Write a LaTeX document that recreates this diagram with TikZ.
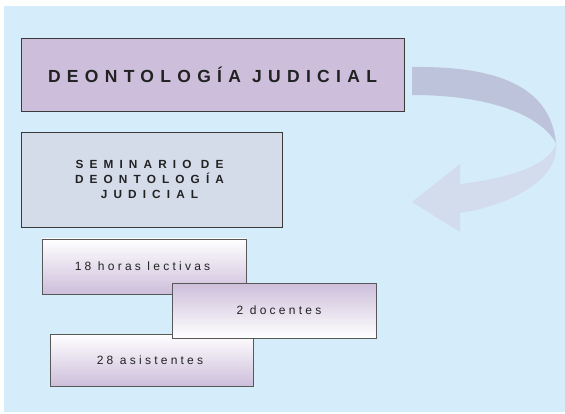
\documentclass[tikz,border=0pt]{standalone}
\usepackage{fontspec}
\setmainfont{Liberation Sans}
\newfontfamily\titlefont[LetterSpace=36]{Liberation Sans}
\newfontfamily\semfont[LetterSpace=52]{Liberation Sans}
\newfontfamily\smallfont[LetterSpace=27]{Liberation Sans}
\definecolor{bgblue}{HTML}{D5EDFA}
\definecolor{lav}{HTML}{CDBEDB}
\definecolor{grayblue}{HTML}{D4DCEA}
\definecolor{edge}{HTML}{3A3A3A}
\definecolor{txt}{HTML}{222222}
\definecolor{arrowtop}{HTML}{BCC3DA}
\definecolor{arrowlow}{HTML}{D3DCEC}
\tikzset{
  box/.style={draw=edge, line width=0.8pt, inner sep=0pt, outer sep=0pt, text=txt},
  smallbox/.style={box, draw=edge!85, minimum width=204pt, minimum height=55pt,
    font=\smallfont\fontsize{12}{14}\selectfont},
  whitetop/.style={top color=white, bottom color=lav},
  lavtop/.style={top color=lav, bottom color=white}
}
\begin{document}
\begin{tikzpicture}[x=1pt,y=-1pt]
\useasboundingbox (0,0) rectangle (565,414);
\fill[bgblue] (4,6) rectangle (565,412);
% curved arrow
\fill[arrowtop] (412,67) .. controls (495,66) and (550,85) .. (556,143)
   .. controls (540,115) and (490,95) .. (412,95) -- cycle;
\fill[arrowlow] (556,143) .. controls (560,180) and (510,205) .. (460,213)
   -- (460,232) -- (412,202) -- (460,164) -- (460,184)
   .. controls (510,178) and (550,165) .. (556,143) -- cycle;
% boxes
\node[box, fill=lav, minimum width=383pt, minimum height=73pt,
  font=\titlefont\bfseries\fontsize{17.5}{20}\selectfont] (b1) at (212.5,74.5) {DEONTOLOGÍA JUDICIAL};
\node[box, fill=grayblue, minimum width=261pt, minimum height=95pt, align=center,
  font=\semfont\bfseries\fontsize{11.8}{15}\selectfont] (b2) at (151.5,179.5)
  {\hspace{-4pt}SEMINARIO DE\\\hspace{-4pt}DEONTOLOGÍA\\\hspace{-4pt}JUDICIAL};
\node[smallbox, whitetop] (b3) at (144,266.5) {\hspace{-3pt}18 horas lectivas};
\node[smallbox, whitetop, minimum width=203pt, minimum height=52pt] (b5) at (151.5,360) {\hspace{-3pt}28 asistentes};
\node[smallbox, lavtop] (b4) at (274,310.5) {\hspace{10pt}2 docentes};
\end{tikzpicture}
\end{document}
